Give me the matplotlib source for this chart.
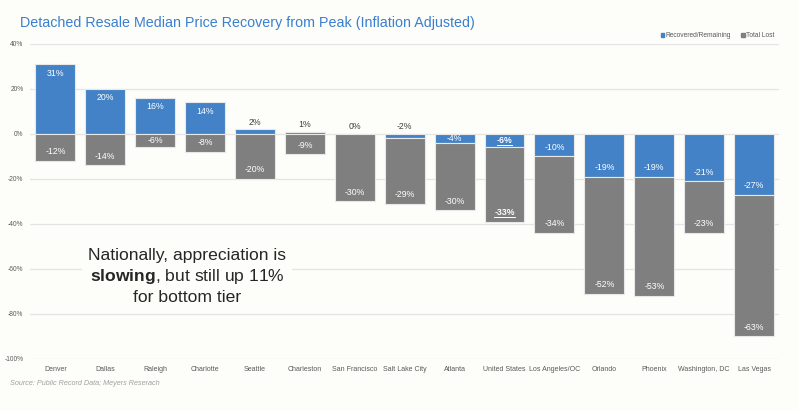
import matplotlib.pyplot as plt
import numpy as np
from matplotlib.patches import Patch

plt.rcParams['font.family'] = ['Liberation Sans', 'DejaVu Sans']
plt.rcParams['mathtext.fontset'] = 'custom'
plt.rcParams['mathtext.bf'] = 'Liberation Sans:bold'
plt.rcParams['mathtext.rm'] = 'Liberation Sans'

cities = ['Denver', 'Dallas', 'Raleigh', 'Charlotte', 'Seattle', 'Charleston',
          'San Francisco', 'Salt Lake City', 'Atlanta', 'United States',
          'Los Angeles/OC', 'Orlando', 'Phoenix', 'Washington, DC', 'Las Vegas']
recovered = [31, 20, 16, 14, 2, 1, 0, -2, -4, -6, -10, -19, -19, -21, -27]
lost = [-12, -14, -6, -8, -20, -9, -30, -29, -30, -33, -34, -52, -53, -23, -63]
yticks = [40, 20, 0, -20, -40, -60, -80, -100]

blue = '#4382c7'
gray = '#7f7f7f'
bg = '#fdfdf9'

fig = plt.figure(figsize=(7.99, 4.11), dpi=100, facecolor=bg)
ax = fig.add_axes([0.038, 0.127, 0.937, 0.766])
ax.set_facecolor(bg)

x = np.arange(len(cities))
rec = np.array(recovered)
lst = np.array(lost)
base = np.minimum(rec, 0)

ax.bar(x, rec, width=0.8, color=blue, edgecolor='#e8e8e8', linewidth=0.8, zorder=3)
ax.bar(x, lst, bottom=base, width=0.8, color=gray, edgecolor='#e8e8e8', linewidth=0.8, zorder=3)

ax.set_xlim(-0.5, len(cities) - 0.5)
ax.set_ylim(-100, 40)
ax.set_yticks(yticks)
ax.set_yticklabels([f'{v}%' for v in yticks], fontsize=4.8, color='#595959')
ax.set_xticks(x)
ax.set_xticklabels(cities, fontsize=5.0, color='#595959')
ax.tick_params(length=0, pad=5)
ax.tick_params(axis='y', pad=5)
for s in ax.spines.values():
    s.set_visible(False)
ax.grid(axis='y', color='#e4e4e4', linewidth=0.9, zorder=0)

px = 140 * 1.0 / (0.766 * 411)  # data units per pixel
us = cities.index('United States')
underline = []

for i in x:
    r, l = rec[i], lst[i]
    w = 'bold' if i == us else 'normal'
    # recovered / remaining label
    if abs(r) <= 2:
        t = ax.text(i, max(r, 0) + 7 * px, f'{r}%', ha='center', va='center',
                    fontsize=6.3, color='#404040', zorder=5)
    else:
        off = min(9 * px, abs(r) / 2)
        t = ax.text(i, r - np.sign(r) * off, f'{r}%', ha='center', va='center',
                    fontsize=6.3, color='white', fontweight=w, zorder=5)
    if i == us:
        underline.append(t)
    # total lost label
    end = base[i] + l
    off = min(9 * px, abs(l) / 2)
    t = ax.text(i, end + off, f'{l}%', ha='center', va='center',
                fontsize=6.3, color='white', fontweight=w, zorder=5)
    if i == us:
        underline.append(t)

ax.text(2.64, -63.4, 'Nationally, appreciation is\n$\\bf{slowing}$, but still up 11%\nfor bottom tier',
        ha='center', va='center', fontsize=12.6, color='#262626', linespacing=1.3,
        bbox=dict(facecolor=bg, edgecolor='none', pad=4), zorder=6)

ax.legend(handles=[Patch(color=blue, label='Recovered/Remaining'),
                   Patch(color=gray, label='Total Lost')],
          loc='lower right', bbox_to_anchor=(1.0, 1.0), ncol=2, frameon=False,
          fontsize=4.8, handlelength=0.5, handleheight=0.5, handletextpad=0.2,
          columnspacing=1.6, labelcolor='#595959', borderaxespad=0.3)

fig.text(0.025, 0.945, 'Detached Resale Median Price Recovery from Peak (Inflation Adjusted)',
         fontsize=10.3, color='#3a7fd0', va='center')
fig.text(0.012, 0.068, 'Source: Public Record Data; Meyers Reserach', fontsize=5.2,
         style='italic', color='#a0a0a0', va='center')

# underline the United States labels
fig.canvas.draw()
inv = fig.transFigure.inverted()
for t in underline:
    bb = t.get_window_extent()
    (x0, y0), (x1, y1) = inv.transform([[bb.x0, bb.y0], [bb.x1, bb.y1]])
    fig.add_artist(plt.Line2D([x0, x1], [y0, y0], color='white', linewidth=0.7, zorder=7))

fig.savefig('out.png', dpi=100, facecolor=bg)
